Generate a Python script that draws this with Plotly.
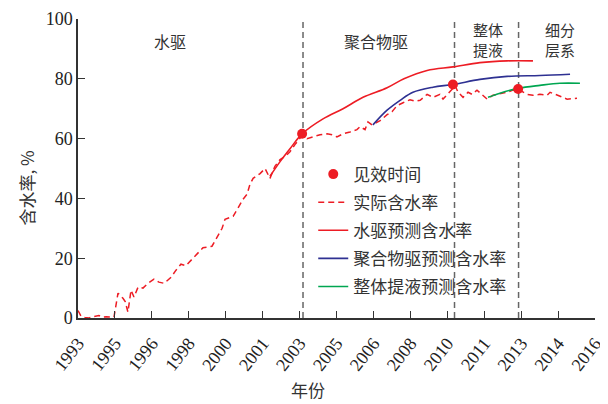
import plotly.graph_objects as go

# ---- data ----
tick_labels = ["1993", "1995", "1996", "1998", "2000", "2001", "2003", "2005",
               "2006", "2008", "2010", "2011", "2013", "2014", "2016"]

actual_x = [1993.0, 1993.13, 1993.3, 1993.49, 1993.7, 1993.93, 1994.1, 1994.25, 1994.6,
            1994.78, 1995.0, 1995.1, 1995.22, 1995.36, 1995.49, 1995.67, 1995.89, 1996.11,
            1996.38, 1996.6, 1996.83, 1997.14, 1997.36, 1997.58, 1997.8, 1998.12, 1998.35,
            1998.56, 1998.96, 1999.18, 1999.41, 1999.54, 1999.9, 2000.12, 2000.34, 2000.52,
            2000.65, 2000.79, 2001.1, 2001.32, 2001.54, 2001.76, 2001.99, 2002.21, 2002.43,
            2002.65, 2002.97, 2003.19, 2003.46, 2003.77, 2004.08, 2004.3, 2004.52, 2004.79,
            2005.1, 2005.41, 2005.55, 2005.77, 2005.9, 2006.08, 2006.44, 2006.75, 2006.97,
            2007.19, 2007.46, 2007.77, 2008.0, 2008.22, 2008.53, 2008.79, 2009.1, 2009.24,
            2009.64, 2009.77, 2009.91, 2010.13, 2010.35, 2010.53, 2010.75, 2010.97, 2011.2,
            2011.46, 2011.77, 2012.09, 2012.35, 2012.58, 2012.98, 2013.24, 2013.55, 2013.87,
            2014.0, 2014.31, 2014.76, 2015.2]
actual_y = [2.5, 0.7, 0.2, 0.0, 0.5, 0.8, 0.3, 0.4, 0.3,
            8.3, 6.6, 5.5, 2.0, 9.3, 7.0, 10.3, 10.0, 11.6,
            13.0, 12.0, 11.6, 13.6, 16.0, 18.0, 17.5, 20.0, 21.5,
            23.5, 24.0, 27.0, 30.0, 33.0, 34.0, 36.8, 39.7, 41.4,
            44.7, 46.7, 48.3, 50.0, 46.7, 50.7, 53.0, 54.0, 55.6,
            58.0, 61.0, 60.0, 60.6, 61.3, 61.6, 61.3, 60.6, 61.6,
            62.2, 63.0, 64.0, 63.0, 65.6, 64.6, 66.0, 68.0, 69.0,
            71.0, 72.0, 73.0, 72.5, 72.8, 74.8, 73.8, 74.8, 73.2,
            76.5, 77.8, 75.5, 73.8, 75.5, 74.8, 76.2, 74.8, 73.2,
            74.5, 75.0, 75.5, 76.2, 76.5, 74.8, 74.5, 74.8, 74.5,
            75.5, 74.5, 73.2, 73.5]

water_x = [2001.54, 2001.99, 2002.43, 2002.97, 2003.9, 2004.79, 2005.68, 2006.75,
           2007.5, 2008.53, 2009.68, 2010.88, 2012.09, 2013.24]
water_y = [47.4, 52.3, 56.6, 61.6, 66.6, 70.0, 73.8, 77.0,
           80.0, 82.8, 84.0, 85.4, 86.0, 86.0]

poly_x = [2006.12, 2006.75, 2007.33, 2007.9, 2008.79, 2009.68, 2010.88, 2012.09, 2013.55, 2014.89]
poly_y = [64.6, 69.5, 72.8, 75.5, 77.2, 78.1, 79.8, 80.8, 81.1, 81.5]

lift_x = [2011.24, 2011.77, 2012.58, 2013.55, 2014.44, 2015.33]
lift_y = [73.8, 75.2, 76.8, 77.8, 78.5, 78.5]

effect_x = [2002.97, 2009.68, 2012.58]
effect_y = [61.6, 78.1, 76.6]

stage_bounds = [2003.01, 2009.75, 2012.6]
stage_lines = [["水驱"], ["聚合物驱"], ["整体", "提液"], ["细分", "层系"]]
stage_label_x = [1997.1, 2006.25, 2011.22, 2014.44]

x_title = "年份"
y_title = "含水率, %"

RED = "#ed1c24"
BLUE = "#2e3192"
GREEN = "#00a651"
CJK = "Noto Sans CJK SC"
SERIF = "Liberation Serif"

fig = go.Figure()

for xb in stage_bounds:
    fig.add_shape(type="line", x0=xb, x1=xb, y0=0, y1=100, xref="x", yref="y",
                  line=dict(color="#666666", width=1.5, dash="6px,4px"), layer="below")

fig.add_trace(go.Scatter(x=actual_x, y=actual_y, mode="lines", name="实际含水率",
                         legendrank=2, legendgroup="b",
                         line=dict(color=RED, width=1.5, dash="6px,4px")))
fig.add_trace(go.Scatter(x=water_x, y=water_y, mode="lines", name="水驱预测含水率",
                         legendrank=3, legendgroup="c",
                         line=dict(color=RED, width=1.6, shape="spline")))
fig.add_trace(go.Scatter(x=poly_x, y=poly_y, mode="lines", name="聚合物驱预测含水率",
                         legendrank=4, legendgroup="d",
                         line=dict(color=BLUE, width=1.6, shape="spline")))
fig.add_trace(go.Scatter(x=lift_x, y=lift_y, mode="lines", name="整体提液预测含水率",
                         legendrank=5, legendgroup="e",
                         line=dict(color=GREEN, width=1.6, shape="spline")))
fig.add_trace(go.Scatter(x=effect_x, y=effect_y, mode="markers", name="见效时间",
                         legendrank=1, legendgroup="a",
                         marker=dict(color=RED, size=10)))

for lines, lx in zip(stage_lines, stage_label_x):
    n = len(lines)
    for i, t in enumerate(lines):
        yy = 92.7 if n == 1 else (96.4 - 6.6 * i)
        fig.add_annotation(x=lx, y=yy, xref="x", yref="y", text=t, showarrow=False,
                           borderpad=0,
                           font=dict(family=CJK, size=16 if n == 1 else 15, color="#333333"))

# axis titles
fig.add_annotation(x=0.445, y=-0.238, xref="paper", yref="paper", text=x_title,
                   showarrow=False, xanchor="center", yanchor="middle",
                   font=dict(family=CJK, size=17, color="#333333"))
fig.add_annotation(x=-0.10, y=0.434, xref="paper", yref="paper", text=y_title,
                   showarrow=False, xanchor="center", yanchor="middle", textangle=-90,
                   font=dict(family=CJK, size=17, color="#333333"))

tickvals = [1993 + i * 23 / 14 for i in range(len(tick_labels))]

fig.update_layout(
    width=608, height=404,
    margin=dict(l=70, r=21, t=11, b=94),
    paper_bgcolor="white", plot_bgcolor="white",
    showlegend=True,
    legend=dict(x=0.455, y=0.54, xanchor="left", yanchor="top",
                bgcolor="rgba(0,0,0,0)", traceorder="grouped", tracegroupgap=3,
                font=dict(family=CJK, size=17, color="#333333"),
                itemwidth=30),
    xaxis=dict(range=[1993, 2016], tickvals=tickvals, ticktext=tick_labels,
               tickangle=-52, ticks="inside", ticklen=7, tickcolor="#333333",
               showline=True, linecolor="#333333", linewidth=1.5, showgrid=False,
               zeroline=False, automargin=False, ticklabelstandoff=6,
               ticklabeloverflow="allow",
               tickfont=dict(family=SERIF, size=18, color="#222222")),
    yaxis=dict(range=[0, 100], tickvals=[0, 20, 40, 60, 80, 100], ticks="inside",
               ticklen=7, tickcolor="#333333", showline=True, linecolor="#333333",
               linewidth=1.5, showgrid=False, zeroline=False, automargin=False,
               ticklabeloverflow="allow",
               tickfont=dict(family=SERIF, size=18, color="#222222")),
)

fig.write_html("out.html")
